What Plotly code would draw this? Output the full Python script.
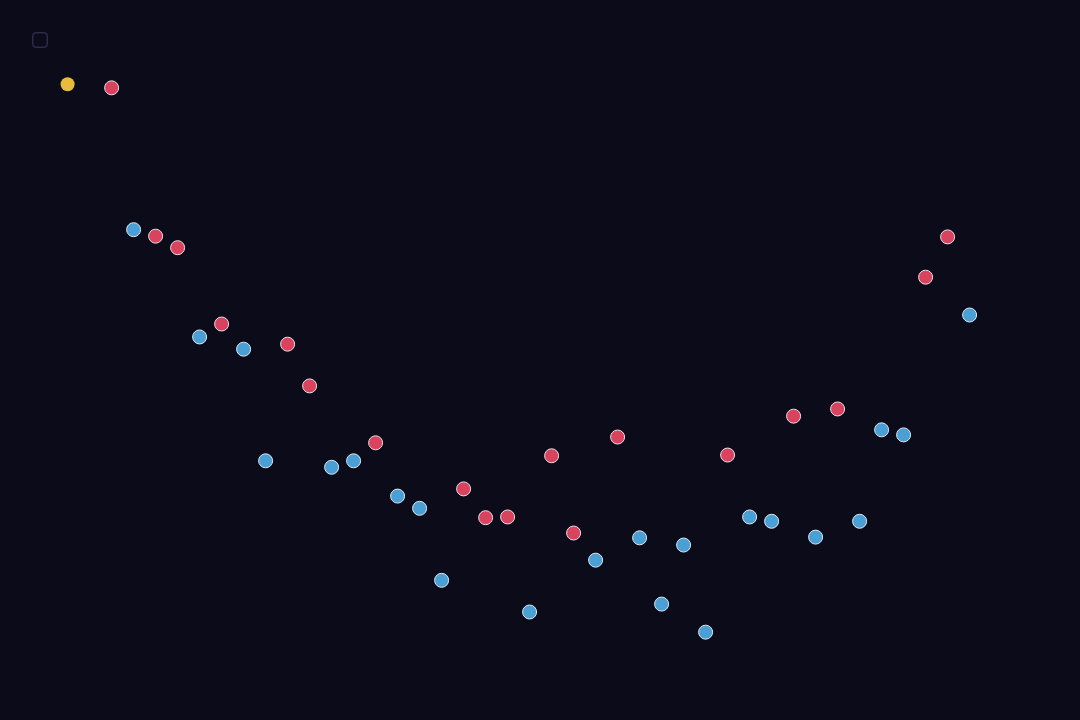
import plotly.graph_objects as go

# position index of each point along the row (step 1 per slot)
highlight_x = [0]
highlight_y = [88.3]

red_x = [2, 4, 5, 7, 10, 11, 14, 18, 19, 20, 22, 23, 25, 30, 33, 35, 39, 40]
red_y = [87.8, 67.2, 65.6, 55.0, 52.2, 46.4, 38.5, 32.1, 28.1, 28.2, 36.7, 25.97,
         39.3, 36.8, 42.2, 43.2, 61.5, 67.1]

blue_x = [3, 6, 8, 9, 12, 13, 15, 16, 17, 21, 24, 26, 27, 28, 29, 31, 32, 34, 36, 37, 38, 41]
blue_y = [68.1, 53.2, 51.5, 36.0, 35.1, 36.0, 31.1, 29.4, 19.4, 15.0, 22.2, 25.3,
          16.1, 24.3, 12.2, 28.2, 27.6, 25.4, 27.6, 40.3, 39.6, 56.25]

BG = "#0b0b1a"

fig = go.Figure()
fig.add_trace(go.Scatter(
    x=highlight_x, y=highlight_y, mode="markers", name="current",
    marker=dict(size=14, color="#e8bb3c", line=dict(width=0)),
))
fig.add_trace(go.Scatter(
    x=red_x, y=red_y, mode="markers", name="red",
    marker=dict(size=14, color="#d9435e", line=dict(width=1, color="#e6e0e8")),
))
fig.add_trace(go.Scatter(
    x=blue_x, y=blue_y, mode="markers", name="blue",
    marker=dict(size=14, color="#4a9fd4", line=dict(width=1, color="#dfe8f0")),
))

# small rounded outline square in the top-left corner
x0, y0, x1, y1, r = 32.75, 32.75, 47.25, 47.25, 4
path = (f"M {x0 + r},{y0} L {x1 - r},{y0} Q {x1},{y0} {x1},{y0 + r} "
        f"L {x1},{y1 - r} Q {x1},{y1} {x1 - r},{y1} L {x0 + r},{y1} "
        f"Q {x0},{y1} {x0},{y1 - r} L {x0},{y0 + r} Q {x0},{y0} {x0 + r},{y0} Z")


# convert pixel path to paper coords
def px_path(p):
    out = []
    for tok in p.split():
        if "," in tok:
            a, b = tok.split(",")
            out.append(f"{float(a) / 1080:.5f},{1 - float(b) / 720:.5f}")
        else:
            out.append(tok)
    return " ".join(out)


fig.add_shape(type="path", xref="paper", yref="paper", path=px_path(path),
              line=dict(color="#2d2b4a", width=1.5), fillcolor="rgba(0,0,0,0)")

fig.update_layout(
    width=1080, height=720,
    margin=dict(l=0, r=0, t=0, b=0),
    paper_bgcolor=BG, plot_bgcolor=BG,
    showlegend=False,
    xaxis=dict(range=[-67.6 / 22, (1080 - 67.6) / 22], visible=False, fixedrange=True),
    yaxis=dict(range=[0, 100], visible=False, fixedrange=True),
)

# page without the default body margin
fig.write_html(
    "out.html",
    config={"displayModeBar": False},
    post_script="document.body.style.margin='0';document.body.style.background='%s';" % BG,
)
